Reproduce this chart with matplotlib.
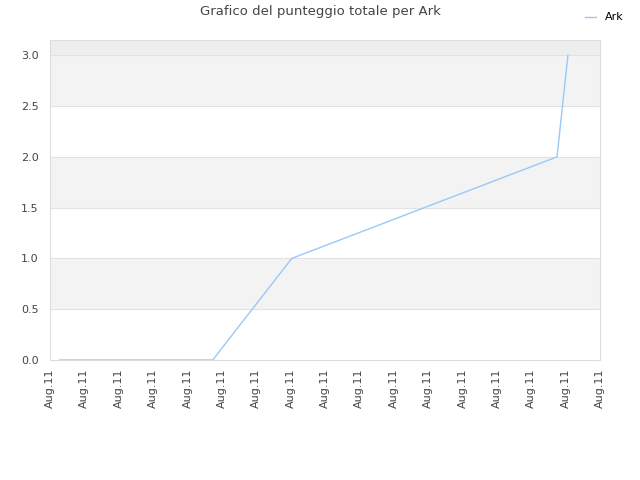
"""Total score chart for Ark."""
import datetime as dt
import matplotlib
matplotlib.use("Agg")
import matplotlib.pyplot as plt
import matplotlib.dates as mdates

day = dt.datetime(2013, 8, 11)
times = [day + dt.timedelta(minutes=m) for m in (17, 284, 422, 885, 904)]
scores = [0, 0, 1, 2, 3]
x_start = day
x_end = day + dt.timedelta(hours=16)
y_max = 3.15

plt.rcParams["font.family"] = ["DejaVu Sans"]
fig = plt.figure(figsize=(6.4, 4.8), dpi=100)
ax = fig.add_axes([50 / 640, 120 / 480, 550 / 640, 320 / 480])

# alternating bands
bands = [(0.5, 1.0, "#f3f3f3"), (1.5, 2.0, "#f3f3f3"), (2.5, 3.0, "#f3f3f3"),
         (3.0, y_max, "#eeeeee")]
for lo, hi, col in bands:
    ax.axhspan(lo, hi, color=col, zorder=0, lw=0)
for y in [0.5, 1.0, 1.5, 2.0, 2.5, 3.0]:
    ax.axhline(y, color="#e2e2e2", lw=0.8, zorder=1)

ax.plot(times, scores, color="#99c9f5", lw=1.0, label="Ark", zorder=3)

ax.set_xlim(x_start, x_end)
ax.set_ylim(0, y_max)
ax.set_yticks([0, 0.5, 1.0, 1.5, 2.0, 2.5, 3.0])
ax.yaxis.set_major_formatter(matplotlib.ticker.FormatStrFormatter("%.1f"))
ax.xaxis.set_major_locator(mdates.HourLocator())
ax.xaxis.set_major_formatter(mdates.DateFormatter("%b.%d"))
ax.tick_params(axis="x", rotation=90, length=0, labelsize=8, colors="#444444", pad=6)
ax.tick_params(axis="y", length=0, labelsize=8, colors="#444444", pad=8)
for s in ax.spines.values():
    s.set_color("#dddddd")

fig.suptitle("Grafico del punteggio totale per Ark", x=0.5, y=0.99,
             fontsize=9.5, color="#444444")
fig.legend(loc="upper right", bbox_to_anchor=(0.99, 0.995), frameon=False,
           fontsize=8, handlelength=1.0, handletextpad=0.8)

fig.savefig("out.png")
